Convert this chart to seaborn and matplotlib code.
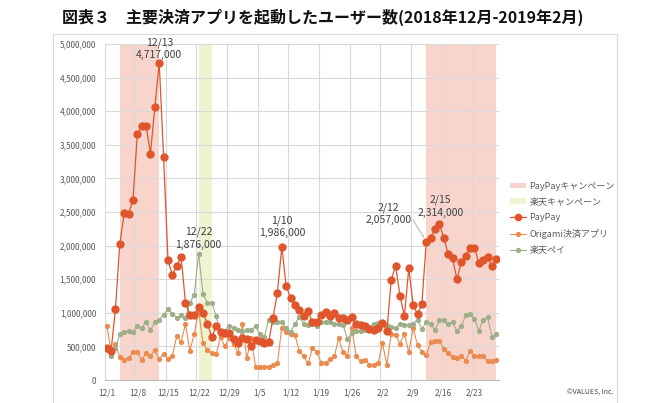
import numpy as np
import pandas as pd
import seaborn as sns
import matplotlib.pyplot as plt
from matplotlib.patches import Patch, Rectangle
from matplotlib.lines import Line2D
from matplotlib.ticker import FuncFormatter

# daily users (thousands), 2018/12/1 - 2019/2/28
dates = pd.date_range('2018-12-01', '2019-02-28', freq='D')
paypay = [470, 430, 1050, 2030, 2480, 2470, 2680, 3660, 3780, 3780,
          3370, 4060, 4717, 3320, 1790, 1560, 1700, 1830, 1150, 970,
          970, 1090, 1000, 840, 640, 800, 710, 700, 700, 610,
          550, 620, 610, 500, 600, 585, 550, 560, 930, 1300,
          1986, 1400, 1220, 1120, 1040, 950, 1030, 860, 860, 970,
          1010, 950, 990, 930, 920, 900, 940, 830, 820, 810,
          760, 750, 780, 850, 730, 1490, 1700, 1250, 950, 1660,
          1120, 980, 1130, 2057, 2120, 2240, 2314, 2120, 1875, 1810,
          1500, 1750, 1850, 1960, 1970, 1740, 1790, 1830, 1690, 1800]
origami = [810, 440, 540, 340, 300, 320, 410, 410, 300, 400,
           350, 450, 310, 390, 310, 360, 650, 570, 830, 430,
           690, 1030, 550, 440, 400, 380, 640, 500, 620, 540,
           400, 840, 320, 620, 200, 200, 200, 200, 220, 250,
           780, 720, 680, 670, 430, 350, 250, 470, 420, 260,
           250, 310, 350, 620, 410, 360, 770, 350, 280, 300,
           230, 230, 250, 550, 220, 690, 670, 540, 690, 410,
           770, 520, 420, 370, 560, 580, 585, 460, 400, 340,
           320, 360, 290, 430, 360, 350, 350, 285, 285, 300]
rakuten = [460, 360, 470, 680, 710, 730, 720, 800, 770, 870,
           740, 860, 900, 970, 1060, 980, 930, 960, 930, 1150,
           1270, 1876, 1280, 1150, 1150, 950, 730, 730, 810, 780,
           740, 730, 740, 740, 800, 680, 640, 900, 870, 870,
           870, 770, 720, 830, 940, 840, 820, 830, 800, 860,
           860, 870, 840, 840, 820, 610, 700, 730, 730, 750,
           780, 840, 850, 860, 820, 790, 780, 830, 820, 820,
           840, 900, 760, 860, 840, 740, 890, 890, 830, 860,
           730, 800, 960, 980, 910, 730, 900, 940, 640, 680]
tick_labels = ['12/1', '12/8', '12/15', '12/22', '12/29', '1/5', '1/12',
               '1/19', '1/26', '2/2', '2/9', '2/16', '2/23']
paypay_campaigns = [('2018-12-04', '2018-12-13'), ('2019-02-12', '2019-02-28')]
rakuten_campaign = ('2018-12-22', '2018-12-25')

df = pd.DataFrame({'date': dates,
                   'PayPay': np.array(paypay) * 1000,
                   'Origami決済アプリ': np.array(origami) * 1000,
                   '楽天ペイ': np.array(rakuten) * 1000})
df['day'] = np.arange(len(df))

sns.set_style('white')
plt.rcParams['font.family'] = ['Noto Sans CJK JP', 'DejaVu Sans']

c_pay, c_ori, c_rak = '#E0552B', '#EC8B4F', '#9DAF89'
c_pink, c_green = '#F8D5CC', '#EEF3D1'

fig = plt.figure(figsize=(6.5, 4.03), dpi=100)
fig.patches.append(Rectangle((53 / 650, 0.0), (617 - 53) / 650, 1 - 34 / 403,
                             transform=fig.transFigure, fill=False,
                             edgecolor='#D9D9D9', linewidth=0.8))
ax = fig.add_axes([104.5 / 650, 1 - 380 / 403, 394 / 650, 336 / 403])

def day_of(s):
    return dates.get_loc(pd.Timestamp(s))

for a, b in paypay_campaigns:
    ax.axvspan(day_of(a), day_of(b), color=c_pink, lw=0, zorder=0)
ax.axvspan(day_of(rakuten_campaign[0]), day_of(rakuten_campaign[1]),
           color=c_green, lw=0, zorder=0)

sns.lineplot(data=df, x='day', y='Origami決済アプリ', color=c_ori, marker='o',
             markersize=3.8, markeredgewidth=0, linewidth=0.8, ax=ax, zorder=3)
sns.lineplot(data=df, x='day', y='楽天ペイ', color=c_rak, marker='o',
             markersize=3.8, markeredgewidth=0, linewidth=0.8, ax=ax, zorder=4)
sns.lineplot(data=df, x='day', y='PayPay', color=c_pay, marker='o',
             markersize=6, markeredgewidth=0, linewidth=0.9, ax=ax, zorder=5)

ax.set_xlim(-0.5, len(df) - 0.5)
ax.set_ylim(0, 5000000)
ax.set_yticks(np.arange(0, 5000001, 500000))
ax.yaxis.set_major_formatter(FuncFormatter(lambda v, p: f'{int(v):,}'))
ax.set_xticks(np.arange(0, len(df), 7))
ax.set_xticklabels(tick_labels)
ax.set_xticks(np.arange(-0.5, len(df), 7), minor=True)
ax.grid(axis='y', which='major', color='#D9D9D9', linewidth=0.8)
ax.grid(axis='x', which='minor', color='#D9D9D9', linewidth=0.8)
ax.set_axisbelow(True)
ax.tick_params(which='both', length=0)
ax.tick_params(axis='both', labelsize=6, labelcolor='#595959', pad=6)
ax.set_xlabel('')
ax.set_ylabel('')
for s in ['top', 'right', 'left']:
    ax.spines[s].set_visible(False)
ax.spines['bottom'].set_color('#BFBFBF')
ax.spines['bottom'].set_linewidth(0.8)
ax.set_facecolor('none')

# peak labels
notes = [('PayPay', '2018-12-13', 0, 2, None),
         ('楽天ペイ', '2018-12-22', 0, 3, None),
         ('PayPay', '2019-01-10', 0, 6, None),
         ('PayPay', '2019-02-12', -27, 12, (-10, 16)),
         ('PayPay', '2019-02-15', 1, 5, None)]
for col, d, dx, dy, arr in notes:
    i = day_of(d)
    v = int(df[col].iloc[i])
    ts = pd.Timestamp(d)
    txt = f'{ts.month}/{ts.day}\n{v:,}'
    ax.annotate(txt, xy=(i, v), xytext=(dx, dy), textcoords='offset points',
                ha='center', va='bottom', fontsize=7.5, color='#404040',
                linespacing=1.3, zorder=6)
    if arr is not None:
        ax.annotate('', xy=(i - 0.2, v + 30000), xytext=arr,
                    textcoords='offset points',
                    arrowprops=dict(arrowstyle='-', color='#A6A6A6', lw=0.6))

fig.text(323 / 650, 1 - 17 / 403,
         '図表３　主要決済アプリを起動したユーザー数(2018年12月-2019年2月)',
         ha='center', va='center', fontsize=11.5, fontweight='bold', color='#111111')

handles = [Patch(facecolor=c_pink, edgecolor='none'),
           Patch(facecolor=c_green, edgecolor='none'),
           Line2D([], [], color=c_pay, marker='o', markersize=5.5, lw=0.9, markeredgewidth=0),
           Line2D([], [], color=c_ori, marker='o', markersize=3.8, lw=0.8, markeredgewidth=0),
           Line2D([], [], color=c_rak, marker='o', markersize=3.8, lw=0.8, markeredgewidth=0)]
labels = ['PayPayキャンペーン', '楽天キャンペーン', 'PayPay', 'Origami決済アプリ', '楽天ペイ']
fig.legend(handles, labels, loc='upper left', bbox_to_anchor=(506 / 650, 1 - 178 / 403),
           frameon=False, fontsize=6.5, labelcolor='#595959', handlelength=1.8,
           handleheight=0.6, labelspacing=0.75, handletextpad=0.4, borderaxespad=0)

fig.text(613 / 650, 1 - 393 / 403, '©VALUES, Inc.', ha='right', va='center',
         fontsize=5, color='#404040')

fig.savefig('out.png', dpi=100)
